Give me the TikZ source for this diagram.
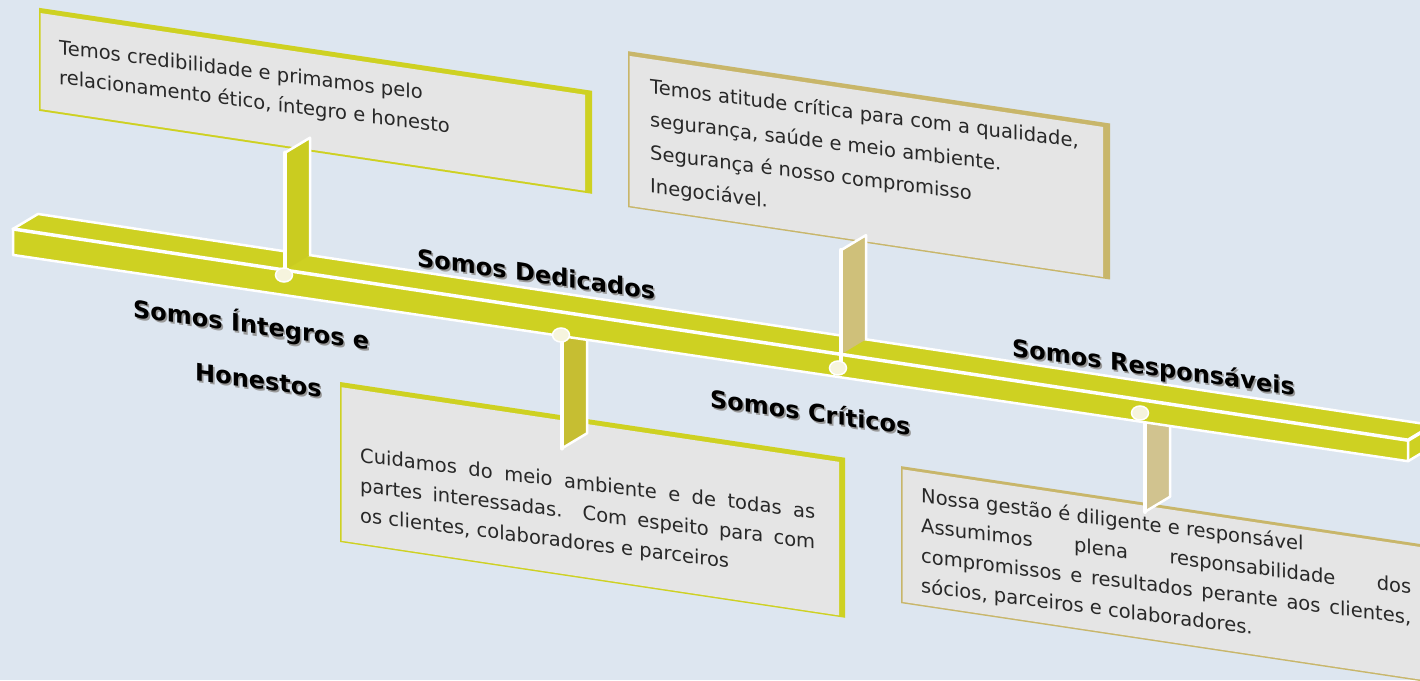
\documentclass[tikz,border=0pt]{standalone}
\usepackage{fontspec}
\setmainfont{DejaVu Sans}
\newfontfamily\boxfont{DejaVu Sans}
\definecolor{bgblue}{RGB}{221,230,240}
\definecolor{baryellow}{RGB}{206,209,34}
\definecolor{pinyellow}{RGB}{202,204,32}
\definecolor{pinolive}{RGB}{198,190,50}
\definecolor{pintan}{RGB}{207,192,122}
\definecolor{pinsand}{RGB}{209,195,143}
\definecolor{boxgrey}{RGB}{229,229,229}
\definecolor{bordertan}{RGB}{200,182,106}
\definecolor{textgrey}{RGB}{40,40,40}
\definecolor{ballcream}{RGB}{246,244,222}
\newcommand{\shadowed}[1]{\makebox[0pt][l]{\hspace{1.6pt}\raisebox{-1.8pt}{\textcolor{black!40}{#1}}}#1}

\begin{document}
\begin{tikzpicture}[x=1pt, y=1pt,
	rim/.style={draw=white, line width=2.5pt, line join=round, line cap=round},
	frontrim/.style={draw=white, line width=4.5pt, line cap=round},
	ball/.style={fill=ballcream, draw=white, line width=1.5pt},
	boxtext/.style={anchor=north west, inner sep=0pt, yslant=-0.125, text=textgrey,
		font=\boxfont\fontsize{19.5}{30}\selectfont,
		execute at begin node={\hyphenpenalty=10000\tolerance=10000}},
	motto/.style={anchor=base west, inner sep=0pt, yslant=-0.14,
		font=\bfseries\fontsize{24}{28}\selectfont}]

\useasboundingbox (0,0) rectangle (1420,-680);
\fill[bgblue] (0,0) rectangle (1420,-680);
\clip (0,0) rectangle (1420,-680);

% the four boxes
\begin{scope}[yslant=-0.15]
	\fill[baryellow] (39,-2) -- (592,-2) -- (592,-105) -- (39,-105) -- cycle;
	\fill[boxgrey] (40.5,-7) -- (585,-7) -- (585,-103) -- (40.5,-103) -- cycle;

	\fill[bordertan] (628,43) -- (1110,43) -- (1110,-113) -- (628,-113) -- cycle;
	\fill[boxgrey] (629.5,38.5) -- (1103,38.5) -- (1103,-111.5) -- (629.5,-111.5) -- cycle;

	\fill[baryellow] (340,-331) -- (845,-331) -- (845,-491) -- (340,-491) -- cycle;
	\fill[boxgrey] (341.5,-336) -- (839,-336) -- (839,-489.5) -- (341.5,-489.5) -- cycle;

	\fill[bordertan] (901,-331) -- (1440,-331) -- (1440,-468) -- (901,-468) -- cycle;
	\fill[boxgrey] (902.5,-334) -- (1440,-334) -- (1440,-466.5) -- (902.5,-466.5) -- cycle;
\end{scope}

\node[boxtext, align=left] (txtintegros) at (59,-39) {Temos credibilidade e primamos pelo\\relacionamento ético, íntegro e honesto};
\node[boxtext, align=left, font=\boxfont\fontsize{19.5}{33}\selectfont] (txtcriticos) at (650,-78) {Temos atitude crítica para com a qualidade,\\segurança, saúde e meio ambiente.\\Segurança é nosso compromisso\\Inegociável.};
\node[boxtext, text width=455pt, align=justify] (txtdedicados) at (360,-447) {Cuidamos do meio ambiente e de todas as\linebreak partes interessadas. Com espeito para com\linebreak os clientes, colaboradores e parceiros};
\node[boxtext, text width=490pt, align=justify] (txtresponsaveis) at (921,-487) {Nossa gestão é diligente e responsável\\Assumimos plena responsabilidade dos\linebreak compromissos e resultados perante aos clientes,\linebreak sócios, parceiros e colaboradores.};

\begin{scope}[yslant=-0.15]
	% pins hanging below the bar
	\fill[pinolive] (562,-251) -- (562,-364) -- (587,-345.25) -- (587,-251) -- cycle;
	\draw[rim] (562,-364) -- (587,-345.25) -- (587,-251);
	\draw[frontrim] (562,-252) -- (562,-364);
	\fill[pinsand] (1145,-250) -- (1145,-340) -- (1170,-321.25) -- (1170,-250) -- cycle;
	\draw[rim] (1145,-340) -- (1170,-321.25) -- (1170,-250);
	\draw[frontrim] (1145,-244) -- (1145,-340);

	% the bar
	\fill[baryellow] (13,-227) -- (38,-208.25) -- (1433,-210.25) -- (1408,-229) -- cycle;
	\fill[baryellow] (13,-227) -- (1408,-229) -- (1408,-250) -- (13,-253) -- cycle;
	\fill[baryellow] (1408,-229) -- (1433,-210.25) -- (1433,-231.25) -- (1408,-250) -- cycle;
	\draw[rim] (13,-227) -- (38,-208.25) -- (1433,-210.25);
	\draw[rim, line width=3.5pt] (13,-227) -- (1408,-229) -- (1433,-210.25);
	\draw[rim] (13,-227) -- (13,-253) -- (1408,-250) -- (1408,-229);
	\draw[rim] (1408,-250) -- (1433,-231.25);

	% pins standing on the bar
	\fill[pinyellow] (285,-227.4) -- (285,-110) -- (310,-91.25) -- (310,-208.6) -- cycle;
	\draw[rim] (285,-110) -- (310,-91.25) -- (310,-208.6);
	\draw[frontrim] (285,-110) -- (285,-232);
	\fill[pintan] (841,-228.2) -- (841,-124) -- (866,-105.25) -- (866,-209.5) -- cycle;
	\draw[rim] (841,-124) -- (866,-105.25) -- (866,-209.5);
	\draw[frontrim] (841,-124) -- (841,-242);
\end{scope}

\filldraw[ball] (284,-275) ellipse (8.5 and 7);
\filldraw[ball] (561,-335) ellipse (8.5 and 7);
\filldraw[ball] (838,-368) ellipse (8.5 and 7);
\filldraw[ball] (1140,-413) ellipse (8.5 and 7);

\node[motto] (integros) at (133,-317) {\shadowed{Somos Íntegros e}};
\node[motto] (honestos) at (195,-380) {\shadowed{Honestos}};
\node[motto] (dedicados) at (417,-266) {\shadowed{Somos Dedicados}};
\node[motto] (criticos) at (710,-407) {\shadowed{Somos Críticos}};
\node[motto] (responsaveis) at (1012,-356) {\shadowed{Somos Responsáveis}};
\end{tikzpicture}
\end{document}
